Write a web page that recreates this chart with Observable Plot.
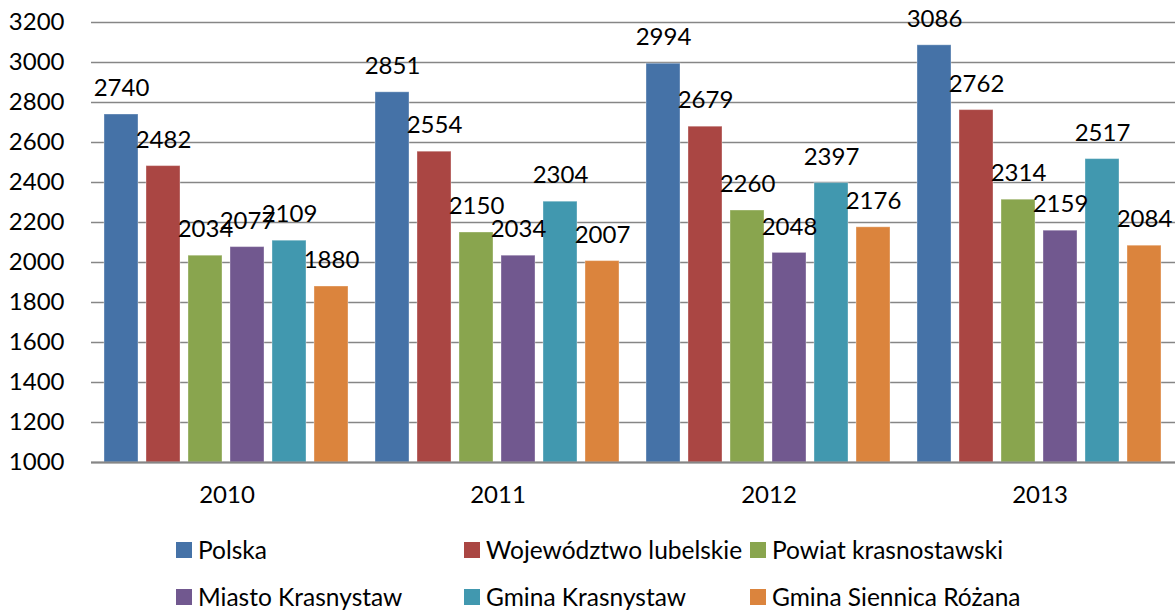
<!DOCTYPE html>
<html>
<head>
<meta charset="utf-8">
<script src="https://cdn.jsdelivr.net/npm/d3@7"></script>
<script src="https://cdn.jsdelivr.net/npm/@observablehq/plot@0.6"></script>
<style>
  html, body { margin: 0; padding: 0; background: #fff; }
  #chart { width: 1175px; font-family: Lato, "Open Sans", sans-serif; }
  .legend { display: grid; grid-template-columns: 288px 286px auto; grid-auto-rows: 47px;
            padding-left: 176px; margin-top: 6px; font-size: 24.5px; color: #000; }
  .item { display: flex; align-items: center; height: 47px; white-space: nowrap; }
  .sw { width: 16px; height: 16px; margin-right: 6px; flex: none; }
</style>
</head>
<body>
<div id="chart"></div>
<script>
const years = ["2010", "2011", "2012", "2013"];
const seriesNames = ["Polska", "Województwo lubelskie", "Powiat krasnostawski",
                     "Miasto Krasnystaw", "Gmina Krasnystaw", "Gmina Siennica Różana"];
const polska = [2740, 2851, 2994, 3086];
const lubelskie = [2482, 2554, 2679, 2762];
const powiat = [2034, 2150, 2260, 2314];
const miasto = [2077, 2034, 2048, 2159];
const gminaKrasnystaw = [2109, 2304, 2397, 2517];
const gminaSiennica = [1880, 2007, 2176, 2084];
const colors = ["#4572A7", "#AA4643", "#89A54E", "#71588F", "#4198AF", "#DB843D"];
const yTicks = [1000, 1200, 1400, 1600, 1800, 2000, 2200, 2400, 2600, 2800, 3000, 3200];

const seriesValues = [polska, lubelskie, powiat, miasto, gminaKrasnystaw, gminaSiennica];
const data = [];
years.forEach((yr, i) => {
  seriesNames.forEach((s, j) => {
    data.push({year: yr, series: s, value: seriesValues[j][i]});
  });
});

const plot = Plot.plot({
  width: 1175,
  height: 520,
  marginTop: 22,
  marginBottom: 58,
  marginLeft: 90,
  marginRight: 0,
  style: {fontFamily: "Lato, 'Open Sans', sans-serif", fontSize: "24px", background: "#fff", color: "#000"},
  fx: {domain: years, padding: 0, label: null},
  x: {domain: seriesNames, paddingInner: 0.19, paddingOuter: 0.315, axis: null},
  y: {domain: [1000, 3200], label: null},
  color: {domain: seriesNames, range: colors},
  marks: [
    Plot.gridY(yTicks, {stroke: "#868686", strokeOpacity: 1, strokeWidth: 1.6}),
    Plot.barY(data, {fx: "year", x: "series", y1: 1000, y2: "value", fill: "series",
                     stroke: "#ffffff", strokeOpacity: 0.35, strokeWidth: 1}),
    Plot.ruleY([1000], {stroke: "#868686", strokeWidth: 2}),
    Plot.text(data, {fx: "year", x: "series", y: "value", text: d => String(d.value),
                     dy: -26, fontSize: 24, fill: "#000", lineAnchor: "middle"}),
    Plot.axisY(yTicks, {tickSize: 0, tickPadding: 27, fontSize: 24, label: null, fill: "#000",
                        tickFormat: d => String(d)}),
    Plot.axisFx({anchor: "bottom", tickSize: 0, tickPadding: 23, fontSize: 24, label: null, fill: "#000"})
  ]
});
document.getElementById("chart").appendChild(plot);

const legend = document.createElement("div");
legend.className = "legend";
seriesNames.forEach((s, j) => {
  const it = document.createElement("div");
  it.className = "item";
  const sw = document.createElement("span");
  sw.className = "sw";
  sw.style.background = colors[j];
  const lab = document.createElement("span");
  lab.textContent = s;
  it.appendChild(sw);
  it.appendChild(lab);
  legend.appendChild(it);
});
document.getElementById("chart").appendChild(legend);
</script>
</body>
</html>
